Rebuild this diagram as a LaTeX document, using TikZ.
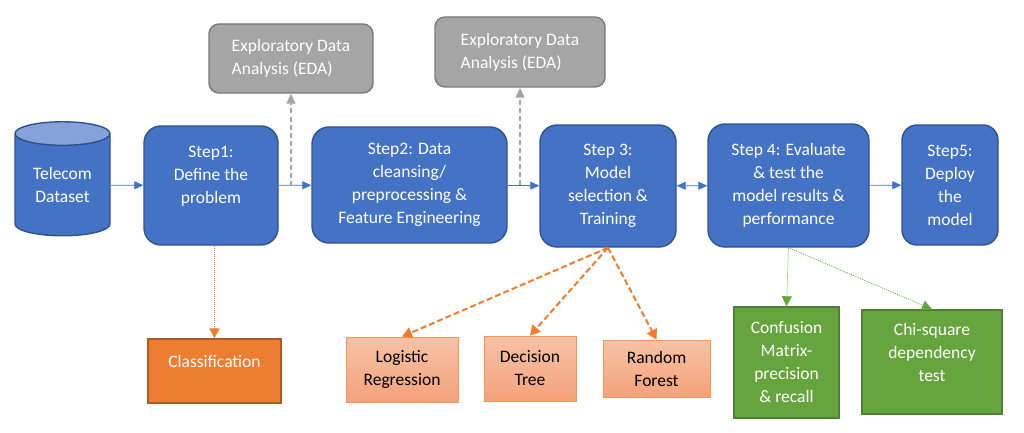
\documentclass[tikz,border=0pt]{standalone}
\usepackage{fontspec}
\setmainfont{Carlito}
\usepackage{tikz}
\usetikzlibrary{arrows.meta}
\usetikzlibrary{shapes.geometric}

\definecolor{stepfill}{HTML}{4472C4}
\definecolor{stepline}{HTML}{2F528F}
\definecolor{steptop}{HTML}{86A2DA}
\definecolor{edafill}{HTML}{A5A5A5}
\definecolor{edaline}{HTML}{787878}
\definecolor{orangefill}{HTML}{ED7D31}
\definecolor{orangeline}{HTML}{AE5A21}
\definecolor{peachtop}{HTML}{F7C2A6}
\definecolor{peachbot}{HTML}{F3A27A}
\definecolor{greenfill}{HTML}{66A43E}
\definecolor{greenline}{HTML}{507E32}

\newcommand{\lowpad}[1]{\rule[-#1]{0pt}{#1}}

\tikzset{
	txt/.style={font=\fontsize{17.5}{23}\selectfont, align=center, inner sep=0pt},
	stepbox/.style={txt, rectangle, rounded corners=17pt, draw=stepline, fill=stepfill, text=white, line width=1.4pt},
	dataset/.style={txt, cylinder, shape border rotate=90, aspect=0.4, draw=stepline, line width=1.4pt, text=white,
		cylinder uses custom fill, cylinder body fill=stepfill, cylinder end fill=steptop},
	edabox/.style={txt, rectangle, rounded corners=10pt, draw=edaline, fill=edafill, text=white, line width=1.4pt, align=left},
	taskbox/.style={txt, rectangle, draw=orangeline, fill=orangefill, text=white, line width=1.2pt},
	algobox/.style={txt, rectangle, draw=orangefill!80, top color=peachtop, bottom color=peachbot, text=black, line width=0.8pt},
	evalbox/.style={txt, rectangle, draw=greenline, fill=greenfill, text=white, line width=1.4pt},
	flow/.style={stepfill, line width=0.8pt, -{Triangle[length=9pt,width=8pt]}},
	edalink/.style={edafill, line width=1.5pt, dash pattern=on 5pt off 3pt, -{Triangle[length=10pt,width=9pt]}},
	algolink/.style={orangefill, line width=2pt, dash pattern=on 6pt off 3pt, -{Triangle[length=10pt,width=11pt]}},
	tasklink/.style={orangefill, line width=0.7pt, dash pattern=on 1pt off 1pt, -{Triangle[length=10pt,width=10pt]}},
	evallink/.style={greenfill, line width=0.7pt, dash pattern=on 1pt off 1pt, -{Triangle[length=10pt,width=10pt]}},
}

\begin{document}
\begin{tikzpicture}[x=1pt,y=-1pt]
	\useasboundingbox (0,0) rectangle (1024,433);
	\node[dataset, minimum width=95pt, minimum height=114pt] (data) at (62.5,185) {Telecom\\Dataset};
	\node[stepbox, minimum width=134pt, minimum height=119pt] (step1) at (211,185.5) {Step1:\\Define the\\problem\lowpad{21pt}};
	\node[stepbox, minimum width=195pt, minimum height=116pt] (step2) at (409.5,185) {Step2: Data\\cleansing/\\preprocessing \&\\Feature Engineering};
	\node[stepbox, minimum width=136pt, minimum height=122pt] (step3) at (608,186) {Step 3:\\Model\\selection \&\\Training};
	\node[stepbox, minimum width=161pt, minimum height=123pt] (step4) at (788.5,185.5) {Step 4: Evaluate\\\& test the\\model results \&\\performance};
	\node[stepbox, minimum width=96pt, minimum height=120pt, rounded corners=15pt] (step5) at (950,185) {Step5:\\Deploy\\the\\model};
	\node[edabox, minimum width=164pt, minimum height=69pt] (eda1) at (291,58.5) {Exploratory Data\\Analysis (EDA)};
	\node[edabox, minimum width=170pt, minimum height=70pt] (eda2) at (520,52) {Exploratory Data\\Analysis (EDA)};
	\node[taskbox, minimum width=133pt, minimum height=64pt] (class) at (214.5,371) {Classification\lowpad{20pt}};
	\node[algobox, minimum width=112pt, minimum height=65pt] (logreg) at (402,369.5) {Logistic\\Regression};
	\node[algobox, minimum width=92pt, minimum height=65pt] (dtree) at (530,368.5) {Decision\\Tree};
	\node[algobox, minimum width=107pt, minimum height=57pt] (rforest) at (656.5,368.5) {Random\\Forest};
	\node[evalbox, minimum width=105pt, minimum height=111pt] (confmat) at (786.5,362.5) {Confusion\\Matrix-\\precision\\\& recall};
	\node[evalbox, minimum width=140pt, minimum height=104pt] (chisq) at (932,362) {Chi-square\\dependency\\test\lowpad{20pt}};
	\draw[flow] (data) -- (step1);
	\draw[flow] (step1) -- (step2);
	\draw[flow] (step2) -- (step3);
	\draw[flow, {Triangle[length=9pt,width=8pt]}-{Triangle[length=9pt,width=8pt]}] (step3) -- (step4);
	\draw[flow] (step4) -- (step5);
	\draw[edalink] (eda1.south |- step1.east) -- (eda1.south);
	\draw[edalink] (eda2.south |- step2.east) -- (eda2.south);
	\draw[tasklink] (class.north |- step1.south) -- (class.north);
	\draw[algolink] (step3.south) -- (logreg.north);
	\draw[algolink] (step3.south) -- (dtree.north);
	\draw[algolink] (step3.south) -- (rforest.north);
	\draw[evallink] (step4.south) -- (confmat.north);
	\draw[evallink] (step4.south) -- (chisq.north);
\end{tikzpicture}
\end{document}
